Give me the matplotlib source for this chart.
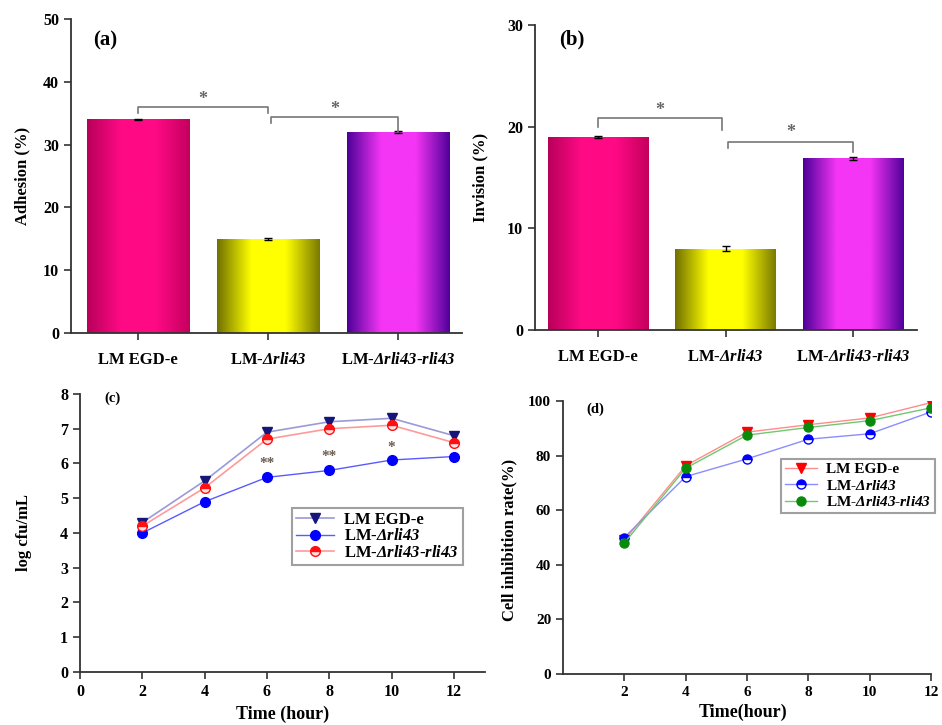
import matplotlib
matplotlib.use('Agg')
import matplotlib.pyplot as plt
import numpy as np
from matplotlib.colors import LinearSegmentedColormap

plt.rcParams['font.family'] = ['Liberation Serif', 'DejaVu Serif']
plt.rcParams['font.weight'] = 'bold'
plt.rcParams['mathtext.fontset'] = 'custom'
# mutant names are set in bold italic (digits too)
plt.rcParams['mathtext.rm'] = 'Liberation Serif:italic:bold'
plt.rcParams['mathtext.it'] = 'Liberation Serif:italic:bold'
plt.rcParams['mathtext.bf'] = 'Liberation Serif:italic:bold'

# ---- data ----
strains = ['LM EGD-e', r'LM-$Δrli43$', r'LM-$Δrli43$-$rli43$']
adhesion = [34.0, 15.0, 32.0]
adhesion_err = [0.15, 0.15, 0.2]
invasion = [19.0, 8.0, 16.9]
invasion_err = [0.1, 0.25, 0.15]

hours = [2, 4, 6, 8, 10, 12]
growth_wt = [4.3, 5.5, 6.9, 7.2, 7.3, 6.8]
growth_del = [4.0, 4.9, 5.6, 5.8, 6.1, 6.2]
growth_comp = [4.2, 5.3, 6.7, 7.0, 7.1, 6.6]
growth_sig = ['', '', '**', '**', '*', '']
growth_sig_y = [0, 0, 6.0, 6.2, 6.45, 0]

inhib_wt = [49.0, 76.3, 88.6, 91.3, 93.8, 99.4]
inhib_del = [50.0, 72.3, 78.8, 86.0, 88.0, 96.0]
inhib_comp = [48.0, 75.4, 87.5, 90.3, 92.8, 97.5]

legend_labels = ['LM EGD-e', r'LM-$Δrli43$', r'LM-$Δrli43$-$rli43$']

bar_grads = [['#b8005a', '#ff0a85', '#c4005e'],
             ['#707000', '#ffff00', '#7a7a00'],
             ['#4c0098', '#f535f5', '#50009a']]

axis_col = '#333333'


def style_axes(ax):
    for s in ['top', 'right']:
        ax.spines[s].set_visible(False)
    for s in ['left', 'bottom']:
        ax.spines[s].set_linewidth(1.3)
        ax.spines[s].set_color(axis_col)
    ax.tick_params(direction='out', length=5, width=1.2, color=axis_col, labelsize=11.5)


def gradient_bars(ax, vals, errs):
    bars = ax.bar(range(len(vals)), vals, width=0.79, color='none', edgecolor='none', zorder=2)
    for b, cols in zip(bars, bar_grads):
        cmap = LinearSegmentedColormap.from_list('g', [cols[0], cols[1], cols[1], cols[2]])
        grad = np.linspace(0, 1, 256).reshape(1, -1)
        x0, w, h = b.get_x(), b.get_width(), b.get_height()
        im = ax.imshow(grad, extent=[x0, x0 + w, 0, h], aspect='auto', cmap=cmap, zorder=2)
        im.set_clip_path(b)
    ax.errorbar(range(len(vals)), vals, yerr=errs, fmt='none', ecolor='black', elinewidth=1, capsize=3, zorder=3)


def bracket(ax, x1, x2, y, yl, yr, ys):
    ax.plot([x1, x1, x2, x2], [yl, y, y, yr], color='#777777', lw=1.2, zorder=3)
    ax.text((x1 + x2) / 2, ys, '*', ha='center', va='center', fontsize=13, color='#666666')


def box_legend(ax, anchor, size, hl, spacing):
    leg = ax.legend(loc='upper left', bbox_to_anchor=anchor, borderaxespad=0, fancybox=False,
                    prop={'size': size, 'weight': 'bold'}, handlelength=hl, labelspacing=spacing,
                    borderpad=0.25, handletextpad=0.6)
    leg.get_frame().set_edgecolor('#888888')
    leg.get_frame().set_linewidth(1.5)


fig = plt.figure(figsize=(9.42, 7.25), dpi=100)

# (a)
ax1 = fig.add_axes([0.0754, 0.5407, 0.415, 0.4331])
gradient_bars(ax1, adhesion, adhesion_err)
bracket(ax1, 0, 1, 36.0, 35.0, 35.0, 37.2)
bracket(ax1, 1.02, 2, 34.4, 33.4, 32.0, 35.6)
ax1.set_xlim(-0.515, 2.49)
ax1.set_ylim(0, 50)
ax1.set_yticks(range(0, 51, 10))
ax1.set_xticks(range(3))
ax1.set_xticklabels(strains)
ax1.set_ylabel('Adhesion (%)', fontsize=12, fontweight='bold')
ax1.yaxis.set_label_coords(-0.105, 0.5)
ax1.text(0.087, 0.933, '(a)', transform=ax1.transAxes, ha='center', va='center', fontsize=15, fontweight='bold')
style_axes(ax1)
ax1.tick_params(axis='x', labelsize=12, pad=9)

# (b)
ax2 = fig.add_axes([0.568, 0.5448, 0.4055, 0.4207])
gradient_bars(ax2, invasion, invasion_err)
bracket(ax2, 0, 0.97, 20.85, 20.0, 19.7, 21.6)
bracket(ax2, 1.02, 2, 18.5, 17.9, 17.5, 19.4)
ax2.set_xlim(-0.494, 2.50)
ax2.set_ylim(0, 30)
ax2.set_yticks(range(0, 31, 10))
ax2.set_xticks(range(3))
ax2.set_xticklabels(strains)
ax2.set_ylabel('Invision (%)', fontsize=12, fontweight='bold')
ax2.yaxis.set_label_coords(-0.123, 0.5)
ax2.text(0.097, 0.951, '(b)', transform=ax2.transAxes, ha='center', va='center', fontsize=15, fontweight='bold')
style_axes(ax2)
ax2.tick_params(axis='x', labelsize=12, pad=9)

# (c)
ax3 = fig.add_axes([0.0849, 0.0731, 0.43, 0.3835])
ax3.plot(hours, growth_wt, color='#9a9ad8', lw=1.2, marker='v', ms=7.5, mfc='#16167a', mec='#16167a', label=legend_labels[0])
ax3.plot(hours, growth_del, color='#5a5aff', lw=1.0, marker='o', ms=7, mfc='#0000ff', mec='#0000ff', label=legend_labels[1])
ax3.plot(hours, growth_comp, color='#ff9a9a', lw=1.2, marker='o', ms=7, mfc='#ff1010', mec='#ff1010',
         fillstyle='top', markerfacecoloralt='#ffe0e0', label=legend_labels[2])
for h, s, y in zip(hours, growth_sig, growth_sig_y):
    if s:
        ax3.text(h, y, s, ha='center', va='center', fontsize=11, color='#6b5e50')
ax3.set_xlim(0, 13)
ax3.set_ylim(0, 8)
ax3.set_xticks(range(0, 13, 2))
ax3.set_yticks(range(0, 9))
ax3.set_xlabel('Time (hour)', fontsize=13, fontweight='bold')
ax3.xaxis.set_label_coords(0.5, -0.122)
ax3.set_ylabel('log cfu/mL', fontsize=12, fontweight='bold')
ax3.yaxis.set_label_coords(-0.118, 0.5)
ax3.text(0.081, 0.986, '(c)', transform=ax3.transAxes, ha='center', va='center', fontsize=10.5, fontweight='bold')
style_axes(ax3)
box_legend(ax3, (0.523, 0.59), 12, 2.3, 0.02)

# (d)
ax4 = fig.add_axes([0.5977, 0.0703, 0.3906, 0.3766])
ax4.plot(hours, inhib_wt, color='#ff8c8c', lw=1.0, marker='v', ms=7, mfc='#ff0000', mec='#ff0000', label=legend_labels[0])
ax4.plot(hours, inhib_del, color='#8c8cff', lw=1.0, marker='o', ms=6.5, mfc='#0000ff', mec='#0000ff',
         fillstyle='top', markerfacecoloralt='white', label=legend_labels[1])
ax4.plot(hours, inhib_comp, color='#70c870', lw=1.0, marker='o', ms=6.5, mfc='#0a8a0a', mec='#0a8a0a', label=legend_labels[2])
ax4.set_xlim(0, 12)
ax4.set_ylim(0, 100)
ax4.set_xticks(range(2, 13, 2))
ax4.set_yticks(range(0, 101, 20))
ax4.set_xlabel('Time(hour)', fontsize=13, fontweight='bold')
ax4.xaxis.set_label_coords(0.49, -0.11)
ax4.set_ylabel('Cell inhibition rate(%)', fontsize=12, fontweight='bold')
ax4.yaxis.set_label_coords(-0.125, 0.49)
ax4.text(0.087, 0.97, '(d)', transform=ax4.transAxes, ha='center', va='center', fontsize=10.5, fontweight='bold')
style_axes(ax4)
ax4.tick_params(labelsize=11)
box_legend(ax4, (0.592, 0.788), 11, 2.1, 0.15)

fig.savefig('out.png', dpi=100)
